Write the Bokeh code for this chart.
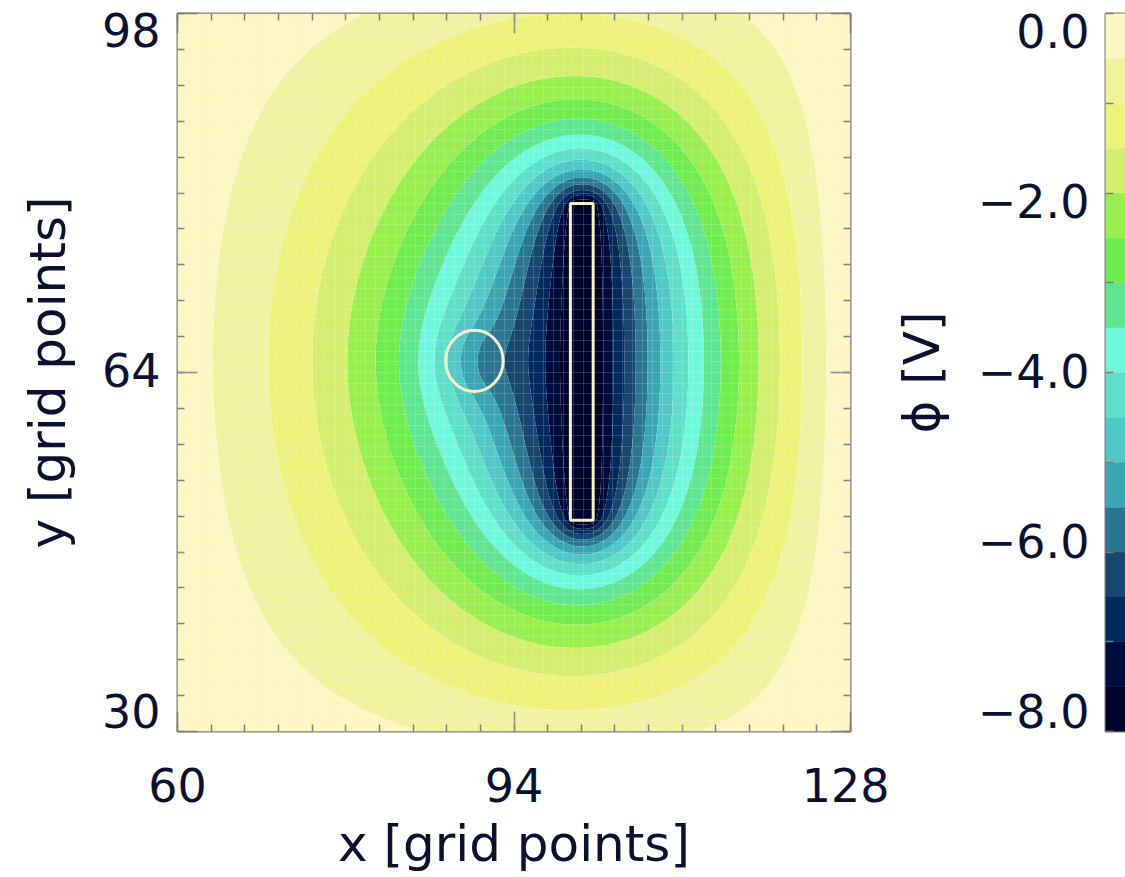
import numpy as np
from bokeh.plotting import figure
from bokeh.layouts import row
from bokeh.models import Range1d, LinearAxis, FixedTicker
from bokeh.embed import file_html
from bokeh.resources import INLINE

# ------------------------------------------------------------------ data
X_RANGE = [60, 128]
Y_RANGE = [30, 98]
X_TICKS = [60, 94, 128]
Y_TICKS = [30, 64, 98]
X_LABEL = "x [grid points]"
Y_LABEL = "y [grid points]"
CBAR_LABEL = "ϕ [V]"

PHI_LEVELS = [-8.0, -7.5, -7.0, -6.5, -6.0, -5.5, -5.0, -4.5, -4.0,
              -3.5, -3.0, -2.5, -2.0, -1.5, -1.0, -0.5, 0.0]
PHI_COLORS = ["#00042c", "#000c3c", "#022a5c", "#17466e", "#2a7592",
              "#3aa6b4", "#50c8c8", "#5ee0c8", "#6ef8dc", "#60e690",
              "#70ec50", "#99ee50", "#d6ee70", "#eef27a", "#f1f2a0",
              "#fdf6c3"]
CBAR_TICKS = [-8, -6, -4, -2, 0]
CBAR_TICK_LABELS = ["−8.0", "−6.0", "−4.0", "−2.0", "0.0"]

# simulation set-up
WALL_X = [57.0, 128.0]            # grounded walls
WALL_Y = [24.0, 106.0]
ELECTRODE_X = [99.7, 102.0]
ELECTRODE_Y = [50.0, 80.0]
ELECTRODE_PHI = -8.0
GRAIN_XY = [90.0, 65.1]
GRAIN_R = 2.9
GRAIN_CHARGE = 0.12
DEBYE_LENGTH = 20.0

# ------------------------------------------------------------------ field
GRID_X = [56.0, 130.0]
GRID_Y = [22.0, 108.0]


def solve(h, init, iters, omega):
    gx = np.arange(GRID_X[0], GRID_X[1] + h / 2, h)
    gy = np.arange(GRID_Y[0], GRID_Y[1] + h / 2, h)
    GX, GY = np.meshgrid(gx, gy)
    grain = (GX - GRAIN_XY[0]) ** 2 + (GY - GRAIN_XY[1]) ** 2 <= GRAIN_R ** 2
    elec = ((GX >= ELECTRODE_X[0]) & (GX <= ELECTRODE_X[1]) &
            (GY >= ELECTRODE_Y[0]) & (GY <= ELECTRODE_Y[1]))
    wall = ((GX <= WALL_X[0]) | (GX >= WALL_X[1]) |
            (GY <= WALL_Y[0]) | (GY >= WALL_Y[1]))
    wall[0, :] = wall[-1, :] = wall[:, 0] = wall[:, -1] = True
    k2 = np.where(grain, 0.0, (h / DEBYE_LENGTH) ** 2)[1:-1, 1:-1]
    den = 4.0 + k2
    src = np.where(grain, GRAIN_CHARGE * h * h, 0.0)[1:-1, 1:-1]
    phi = np.zeros(GX.shape) if init is None else init.copy()
    phi[wall] = 0.0
    phi[elec] = ELECTRODE_PHI
    free = ~wall & ~elec
    I, J = np.indices(GX.shape)
    masks = [(free & ((I + J) % 2 == 0))[1:-1, 1:-1],
             (free & ((I + J) % 2 == 1))[1:-1, 1:-1]]
    inner = phi[1:-1, 1:-1]
    for _ in range(iters):
        for m in masks:
            new = (phi[2:, 1:-1] + phi[:-2, 1:-1] +
                   phi[1:-1, 2:] + phi[1:-1, :-2] - src) / den
            np.copyto(inner, inner + omega * (new - inner), where=m)
    return gx, gy, phi


def upsample(c):
    ny, nx = c.shape
    f = np.zeros((2 * ny - 1, 2 * nx - 1))
    f[::2, ::2] = c
    f[1::2, ::2] = 0.5 * (c[:-1, :] + c[1:, :])
    f[:, 1::2] = 0.5 * (f[:, :-2:2] + f[:, 2::2])
    return f


_, _, p2 = solve(2.0, None, 1200, 1.88)
_, _, p1 = solve(1.0, upsample(p2), 700, 1.92)
gx, gy, phi = solve(0.5, upsample(p1), 600, 1.94)

ix = (gx >= X_RANGE[0] - 1e-9) & (gx <= X_RANGE[1] + 1e-9)
iy = (gy >= Y_RANGE[0] - 1e-9) & (gy <= Y_RANGE[1] + 1e-9)
Z = phi[np.ix_(iy, ix)]
XX, YY = np.meshgrid(gx[ix], gy[iy])
levels = list(PHI_LEVELS)
levels[0] -= 0.01
levels[-1] += 0.01

# ------------------------------------------------------------------ style
FONT = "DejaVu Sans"
TXT = "#0b1030"
FRAME = "#7c7c7c"
TICK_FS = "46px"
LAB_FS = "50px"
OUTLINE_COL = "#f4f0c6"

FIG_H = 877
FRAME_TOP = 13
FRAME_BOT = 731
MAIN_W = 889

p = figure(width=MAIN_W, height=FIG_H,
           x_range=Range1d(*X_RANGE), y_range=Range1d(*Y_RANGE),
           output_backend="svg", toolbar_location=None,
           min_border_left=177, min_border_right=MAIN_W - 850,
           min_border_top=FRAME_TOP, min_border_bottom=FIG_H - FRAME_BOT)
p.background_fill_color = "white"
p.border_fill_color = "white"
p.outline_line_color = FRAME
p.outline_line_width = 2

p.contour(XX, YY, Z, levels, fill_color=PHI_COLORS)

p.quad(left=ELECTRODE_X[0], right=ELECTRODE_X[1],
       bottom=ELECTRODE_Y[0], top=ELECTRODE_Y[1],
       fill_color=None, line_color=OUTLINE_COL, line_width=3)
p.ellipse(x=GRAIN_XY[0], y=GRAIN_XY[1], width=2 * GRAIN_R, height=2 * GRAIN_R,
          fill_color=None, line_color=OUTLINE_COL, line_width=3)

# faint mesh lines
p.xgrid.ticker = FixedTicker(ticks=list(range(X_RANGE[0], X_RANGE[1] + 1)))
p.ygrid.ticker = FixedTicker(ticks=list(range(Y_RANGE[0], Y_RANGE[1] + 1)))
p.grid.grid_line_color = "white"
p.grid.grid_line_alpha = 0.16
p.grid.grid_line_width = 1
p.grid.level = "overlay"

x_minor = np.linspace(X_RANGE[0], X_RANGE[1], 21).tolist()
y_minor = np.linspace(Y_RANGE[0], Y_RANGE[1], 21).tolist()


def tick_style(ax):
    ax.axis_line_color = None
    ax.major_tick_in = 20
    ax.major_tick_out = 0
    ax.minor_tick_in = 7
    ax.minor_tick_out = 0
    ax.major_tick_line_color = FRAME
    ax.minor_tick_line_color = FRAME
    ax.major_tick_line_width = 1.5
    ax.minor_tick_line_width = 1.5


def no_labels(ax, ticks):
    ax.major_label_overrides = {t: "" for t in ticks}
    ax.major_label_standoff = 0
    ax.major_label_text_font_size = "0px"


# bottom axis (ticks + labels)
xb = p.xaxis[0]
xb.ticker = FixedTicker(ticks=X_TICKS, minor_ticks=x_minor)
tick_style(xb)
xb.major_label_text_font = FONT
xb.major_label_text_font_size = TICK_FS
xb.major_label_text_color = TXT
xb.major_label_standoff = 36
xb.axis_label = X_LABEL
xb.axis_label_text_font = FONT
xb.axis_label_text_font_size = LAB_FS
xb.axis_label_text_font_style = "normal"
xb.axis_label_text_color = TXT
xb.axis_label_standoff = 10

# left axis (ticks only)
yl = p.yaxis[0]
yl.ticker = FixedTicker(ticks=Y_TICKS, minor_ticks=y_minor)
tick_style(yl)
no_labels(yl, Y_TICKS)

# top and right axes (ticks only)
xt = LinearAxis(ticker=FixedTicker(ticks=X_TICKS, minor_ticks=x_minor))
tick_style(xt)
no_labels(xt, X_TICKS)
p.add_layout(xt, "above")
yr = LinearAxis(ticker=FixedTicker(ticks=Y_TICKS, minor_ticks=y_minor))
tick_style(yr)
no_labels(yr, Y_TICKS)
p.add_layout(yr, "right")

# left label axis (end labels kept inside the frame height, as in the original)
top_px, bot_px = 29, 710
slope = (bot_px - top_px) / (Y_TICKS[-1] - Y_TICKS[0])
lab_hi = Y_TICKS[-1] + (top_px - FRAME_TOP) / slope
lab_lo = Y_TICKS[0] - (FRAME_BOT - bot_px) / slope
p.extra_y_ranges = {"ylab": Range1d(lab_lo, lab_hi)}
yla = LinearAxis(y_range_name="ylab", ticker=FixedTicker(ticks=Y_TICKS, minor_ticks=[]))
yla.axis_line_color = None
yla.major_tick_line_color = None
yla.minor_tick_line_color = None
yla.major_tick_in = 0
yla.major_tick_out = 0
yla.major_label_text_font = FONT
yla.major_label_text_font_size = TICK_FS
yla.major_label_text_color = TXT
yla.major_label_standoff = 17
yla.axis_label = Y_LABEL
yla.axis_label_text_font = FONT
yla.axis_label_text_font_size = LAB_FS
yla.axis_label_text_font_style = "normal"
yla.axis_label_text_color = TXT
yla.axis_label_standoff = 22
p.add_layout(yla, "left")

# ------------------------------------------------------------------ colour bar
CB_W = 1125 - MAIN_W
cb = figure(width=CB_W, height=FIG_H,
            x_range=Range1d(0, 1), y_range=Range1d(PHI_LEVELS[0], PHI_LEVELS[-1]),
            output_backend="svg", toolbar_location=None,
            min_border_left=CB_W - 27, min_border_right=0,
            min_border_top=FRAME_TOP, min_border_bottom=FIG_H - FRAME_BOT)
cb.background_fill_color = "white"
cb.border_fill_color = "white"
cb.outline_line_color = FRAME
cb.outline_line_width = 2
cb.grid.visible = False
cb.xaxis.visible = False
cb.quad(left=0, right=1, bottom=PHI_LEVELS[:-1], top=PHI_LEVELS[1:],
        fill_color=PHI_COLORS, line_color=PHI_COLORS, line_width=0.5)

cby = cb.yaxis[0]
cby.ticker = FixedTicker(ticks=list(range(int(PHI_LEVELS[0]), int(PHI_LEVELS[-1]) + 1)),
                         minor_ticks=[])
cby.axis_line_color = None
cby.major_tick_in = 8
cby.major_tick_out = 0
cby.major_tick_line_color = FRAME
cby.major_tick_line_width = 1.5
no_labels(cby, list(range(-8, 1)))

cb_top_px, cb_bot_px = 30, 710
cslope = (cb_bot_px - cb_top_px) / (CBAR_TICKS[-1] - CBAR_TICKS[0])
c_hi = CBAR_TICKS[-1] + (cb_top_px - FRAME_TOP) / cslope
c_lo = CBAR_TICKS[0] - (FRAME_BOT - cb_bot_px) / cslope
cb.extra_y_ranges = {"clab": Range1d(c_lo, c_hi)}
cla = LinearAxis(y_range_name="clab", ticker=FixedTicker(ticks=CBAR_TICKS, minor_ticks=[]))
cla.axis_line_color = None
cla.major_tick_line_color = None
cla.minor_tick_line_color = None
cla.major_tick_in = 0
cla.major_tick_out = 0
cla.major_label_overrides = dict(zip(CBAR_TICKS, CBAR_TICK_LABELS))
cla.major_label_text_font = FONT
cla.major_label_text_font_size = TICK_FS
cla.major_label_text_color = TXT
cla.major_label_standoff = 16
cla.axis_label = CBAR_LABEL
cla.axis_label_text_font = FONT
cla.axis_label_text_font_size = LAB_FS
cla.axis_label_text_font_style = "normal"
cla.axis_label_text_color = TXT
cla.axis_label_standoff = 24
cb.add_layout(cla, "left")

layout = row(p, cb, spacing=0)
open("out.html", "w").write(file_html(layout, INLINE))
